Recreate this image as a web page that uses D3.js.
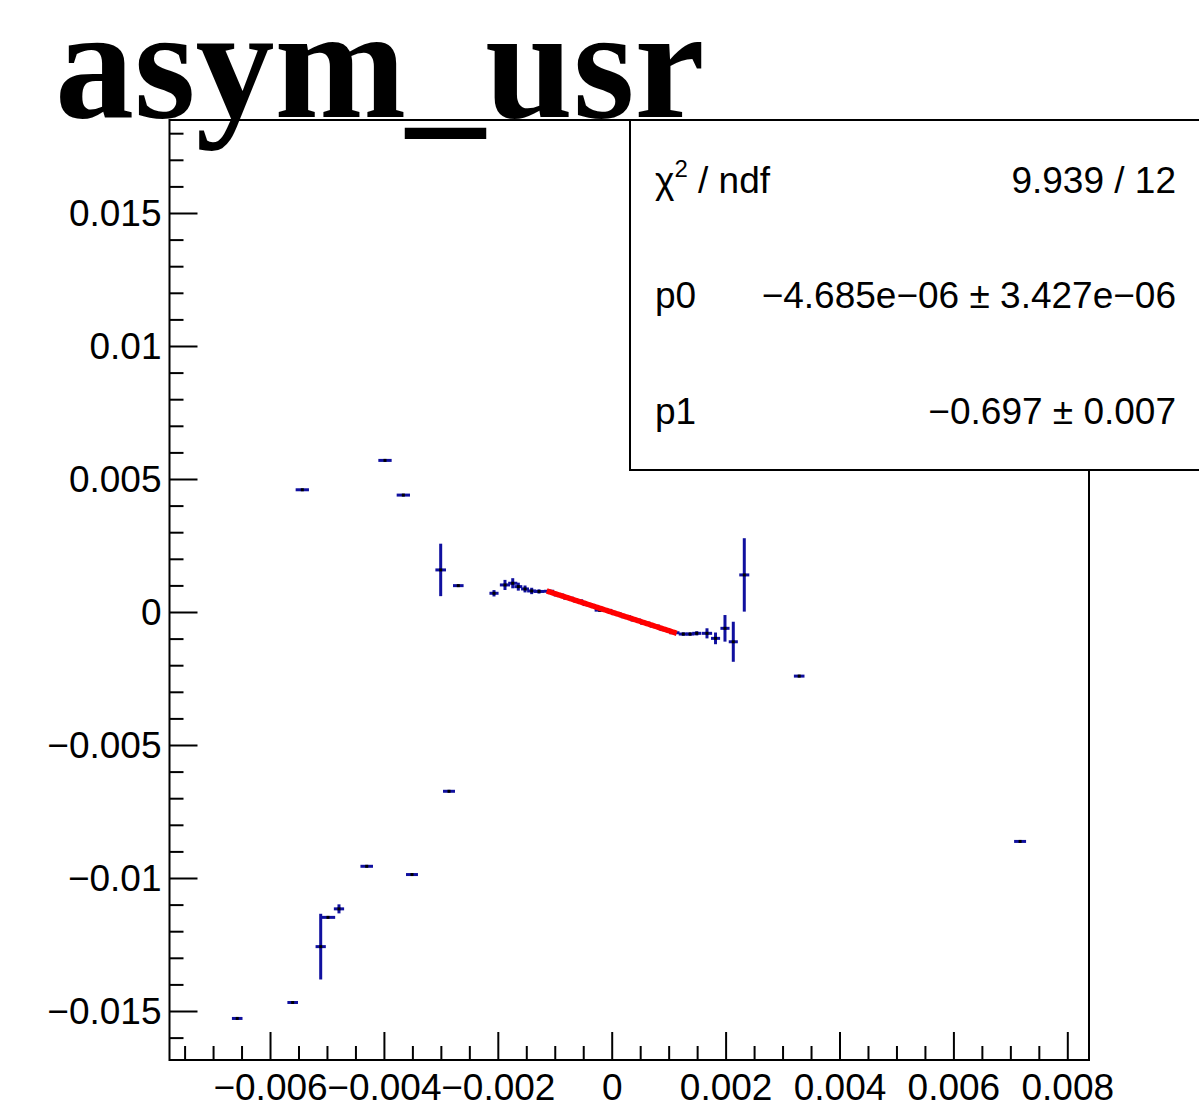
<!DOCTYPE html>
<html><head><meta charset="utf-8">
<script src="https://cdn.jsdelivr.net/npm/d3@7"></script>
<style>
html,body{margin:0;padding:0;background:#fff;}
svg{display:block;}
</style></head>
<body>
<svg id="c" width="1199" height="1116"></svg>
<script>
// ---- data ----
const titleText = "asym_usr";
const xMajorTicks = [-0.006, -0.004, -0.002, 0, 0.002, 0.004, 0.006, 0.008];
const yMajorTicks = [-0.015, -0.01, -0.005, 0, 0.005, 0.01, 0.015];
const xTickLabels = ["\u22120.006", "\u22120.004", "\u22120.002", "0", "0.002", "0.004", "0.006", "0.008"];
const yTickLabels = ["\u22120.015", "\u22120.01", "\u22120.005", "0", "0.005", "0.01", "0.015"];
const xDomain = [-0.007765, 0.008381];
const yDomain = [-0.016842, 0.018496];

// points: x, y, x error (half width), y error
const ptX = [-0.006576, -0.005602, -0.005110, -0.004982, -0.004789, -0.004302, -0.003507, -0.002857,
             -0.005433, -0.003981, -0.003659, -0.003003, -0.002694,
             -0.002067, -0.001874, -0.001738, -0.001640, -0.001522, -0.001405, -0.001277,
             -0.00110, -0.00093, -0.00076, -0.00059, -0.00042, -0.00021, -0.00008, 0.00008, 0.00025, 0.00042, 0.00059, 0.00076, 0.00093, 0.00110,
             0.001257, 0.001375, 0.001493, 0.001673, 0.001823, 0.001989, 0.002135, 0.002328,
             0.003292, 0.007171];
const ptY = [-0.01528, -0.01468, -0.01258, -0.01148, -0.01116, -0.00956, -0.00987, -0.00674,
             0.004595, 0.005699, 0.004395, 0.001582, 0.000991,
             0.000704, 0.001017, 0.001081, 0.000953, 0.000866, 0.000791, 0.000772,
             0.00078, 0.00064, 0.00052, 0.00042, 0.00028, 0.00007, 0.00006, -0.00006, -0.00018, -0.00030, -0.00042, -0.00053, -0.00066, -0.00078,
             -0.000829, -0.000829, -0.000802, -0.000802, -0.000991, -0.000614, -0.001119, 0.001394,
             -0.00241, -0.008625];
const ptXErr = [0.000093, 0.000093, 0.00009, 0.000126, 0.00009, 0.00011, 0.000105, 0.000105,
                0.000117, 0.000117, 0.000117, 0.000093, 0.000093,
                0.00008, 0.00009, 0.00008, 0.00007, 0.00007, 0.00008, 0.00009,
                0.00009, 0.00009, 0.00009, 0.00009, 0.00009, 0.00009, 0.00009, 0.00009, 0.00009, 0.00009, 0.00009, 0.00009, 0.00009, 0.00009,
                0.00008, 0.00008, 0.00008, 0.00009, 0.00008, 0.00008, 0.00008, 0.000088,
                0.000093, 0.000105];
const ptYErr = [0, 0, 0.001235, 0, 0.00017, 0, 0, 0,
                0, 0, 0, 0.000986, 0,
                0.00012, 0.00019, 0.00019, 0.00015, 0.00013, 0.00012, 0.00008,
                0.00006, 0.00006, 0.00006, 0.00006, 0.00006, 0.00006, 0.00006, 0.00006, 0.00006, 0.00006, 0.00006, 0.00006, 0.00006, 0.00006,
                0.00006, 0.00006, 0.00008, 0.00019, 0.00022, 0.0005, 0.000753, 0.00138,
                0, 0];

// fit
const fitRange = [-0.001141, 0.001141];
const fitP0 = -4.685e-06;
const fitP1 = -0.697;

const statNames = ["\u03c7\u00b2 / ndf", "p0", "p1"];
const statValues = ["9.939 / 12", "\u22124.685e\u221206 \u00b1 3.427e\u221206", "\u22120.697 \u00b1 0.007"];

// ---- drawing ----
const svg = d3.select("#c");
const L = 169.5, R = 1089, T = 120, B = 1060;
const x = d3.scaleLinear().domain(xDomain).range([L, R]);
const y = d3.scaleLinear().domain(yDomain).range([B, T]);
const font = "'Liberation Sans', Arial, Helvetica, sans-serif";
const blue = "#10109f";

// frame
svg.append("rect").attr("x", L).attr("y", T).attr("width", R - L).attr("height", B - T)
  .attr("fill", "none").attr("stroke", "#000").attr("stroke-width", 2);

// minor ticks
const xMinor = d3.range(-0.0075, 0.00841, 0.0005).filter(v => !xMajorTicks.some(m => Math.abs(m - v) < 1e-9));
const yMinor = d3.range(-0.016, 0.01851, 0.001).filter(v => !yMajorTicks.some(m => Math.abs(m - v) < 1e-9));

const xAxis = svg.append("g").attr("transform", `translate(0,${B})`)
  .call(d3.axisBottom(x).tickValues(xMajorTicks).tickSize(-28).tickPadding(14)
        .tickFormat((d, i) => xTickLabels[i]));
const xAxisMinor = svg.append("g").attr("transform", `translate(0,${B})`)
  .call(d3.axisBottom(x).tickValues(xMinor).tickSize(-14).tickFormat(""));
const yAxis = svg.append("g").attr("transform", `translate(${L},0)`)
  .call(d3.axisLeft(y).tickValues(yMajorTicks).tickSize(-28).tickPadding(8)
        .tickFormat((d, i) => yTickLabels[i]));
const yAxisMinor = svg.append("g").attr("transform", `translate(${L},0)`)
  .call(d3.axisLeft(y).tickValues(yMinor).tickSize(-14).tickFormat(""));

[xAxis, xAxisMinor, yAxis, yAxisMinor].forEach(g => {
  g.select(".domain").remove();
  g.selectAll("line").attr("stroke", "#000").attr("stroke-width", 2);
  g.selectAll("text").attr("font-family", font).attr("font-size", 37).attr("fill", "#000");
});
yAxis.selectAll("text").attr("dy", "0.35em");

// data points with error bars
const pts = ptX.map((v, i) => ({x: v, y: ptY[i], ex: ptXErr[i], ey: ptYErr[i]}));
const gp = svg.append("g");
pts.forEach(p => {
  gp.append("line").attr("x1", x(p.x - p.ex)).attr("x2", x(p.x + p.ex))
    .attr("y1", y(p.y)).attr("y2", y(p.y)).attr("stroke", blue).attr("stroke-width", 3);
  if (p.ey > 0) {
    gp.append("line").attr("x1", x(p.x)).attr("x2", x(p.x))
      .attr("y1", y(p.y - p.ey)).attr("y2", y(p.y + p.ey)).attr("stroke", blue).attr("stroke-width", 3);
  }
  gp.append("rect").attr("x", x(p.x) - 1.5).attr("y", y(p.y) - 1.5).attr("width", 3).attr("height", 3).attr("fill", "#000");
});

// fit line
const fitPts = d3.range(0, 101).map(i => {
  const xv = fitRange[0] + (fitRange[1] - fitRange[0]) * i / 100;
  return [xv, fitP0 + fitP1 * xv];
});
svg.append("path").datum(fitPts)
  .attr("d", d3.line().x(d => x(d[0])).y(d => y(d[1])))
  .attr("fill", "none").attr("stroke", "#ff0000").attr("stroke-width", 5.5);

// stats box
svg.append("rect").attr("x", 630).attr("y", 120).attr("width", 600).attr("height", 350)
  .attr("fill", "#fff").attr("stroke", "#000").attr("stroke-width", 2);
const rowY = [193, 308, 424];
statNames.forEach((s, i) => {
  const t = svg.append("text").attr("x", 655).attr("y", rowY[i])
    .attr("font-family", font).attr("font-size", 37).attr("fill", "#000");
  if (i === 0) {
    t.append("tspan").text("\u03c7");
    t.append("tspan").text("2").attr("font-size", 24).attr("dy", -16);
    t.append("tspan").text(" / ndf").attr("dy", 16);
  } else {
    t.text(s);
  }
  svg.append("text").attr("x", 1176).attr("y", rowY[i]).attr("text-anchor", "end")
    .attr("font-family", font).attr("font-size", 37).attr("fill", "#000").text(statValues[i]);
});

// title
svg.append("text").attr("x", 55).attr("y", 117)
  .attr("font-family", "'Liberation Serif', 'Times New Roman', serif")
  .attr("font-weight", "bold").attr("font-size", 158).attr("fill", "#000").text(titleText);
</script>
</body></html>
